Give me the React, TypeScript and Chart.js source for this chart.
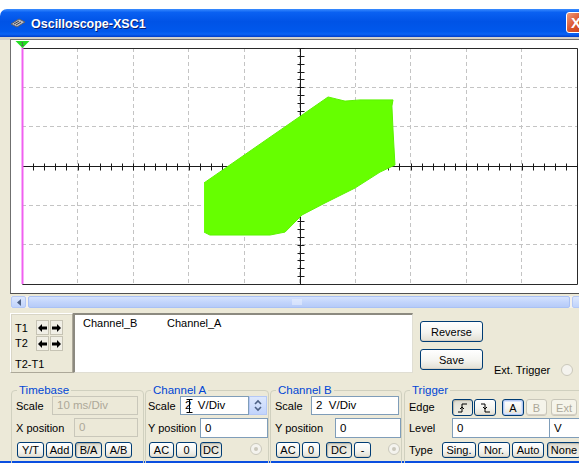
import React, { useEffect, useRef } from "react";
import { Chart, registerables } from "chart.js";

Chart.register(...registerables);

// Outline of the XY trace: Channel A drives the horizontal axis, Channel B the vertical (volts)
const chanA = [-3.44, 1.03, 1.32, 1.64, 2.18, 3.37, 3.33, 3.37, 3.44, 2.9, 2.0, 0.92, 0.09, -0.52, -1.06, -3.23, -3.44];
const chanB = [-0.86, 3.51, 3.41, 3.3, 3.36, 3.36, 3.05, 1.83, 0.05, -0.31, -1.12, -1.88, -2.49, -3.36, -3.51, -3.51, -3.36];

const voltsPerDivA = 2;
const voltsPerDivB = 2;
const divisionsX = 10;
const divisionsY = 6;
const minorPerDiv = 5;

const channelNames = ["Channel_B", "Channel_A"];

const UI_FONT = "'Liberation Sans', Arial, sans-serif";
const TRACE = "#66ff00";
const BEIGE = "#ece9d8";

const half = (v: number) => Math.round(v) + 0.5;

// Center cross-hair with minor ticks, the solid frame, and the T1 cursor
const scopePlugin = {
  id: "scopeDecor",
  beforeDatasetsDraw(chart: any) {
    const { ctx, chartArea: a, scales } = chart;
    const xs = scales.x;
    const ys = scales.y;
    const L = half(a.left);
    const R = half(a.right);
    const T = half(a.top);
    const B = half(a.bottom);
    const x0 = half(xs.getPixelForValue(0));
    const y0 = half(ys.getPixelForValue(0));
    ctx.save();
    ctx.lineWidth = 1;
    ctx.strokeStyle = "#2a2a2a";
    ctx.beginPath();
    ctx.moveTo(L, T);
    ctx.lineTo(R, T);
    ctx.lineTo(R, B);
    ctx.lineTo(L, B);
    ctx.stroke();

    ctx.strokeStyle = "#1a1a1a";
    ctx.beginPath();
    ctx.moveTo(L, y0);
    ctx.lineTo(R, y0);
    ctx.moveTo(x0, T);
    ctx.lineTo(x0, B);
    const stepX = voltsPerDivA / minorPerDiv;
    for (let v = xs.min; v <= xs.max + 1e-9; v += stepX) {
      const px = half(xs.getPixelForValue(v));
      ctx.moveTo(px, y0 - 3);
      ctx.lineTo(px, y0 + 4);
    }
    const stepY = voltsPerDivB / minorPerDiv;
    for (let v = ys.min; v <= ys.max + 1e-9; v += stepY) {
      const py = half(ys.getPixelForValue(v));
      ctx.moveTo(x0 - 3, py);
      ctx.lineTo(x0 + 4, py);
    }
    ctx.stroke();
    ctx.restore();
  },
  afterDatasetsDraw(chart: any) {
    const { ctx, chartArea: a } = chart;
    const L = half(a.left);
    ctx.save();
    ctx.strokeStyle = "#f060f0";
    ctx.lineWidth = 2;
    ctx.beginPath();
    ctx.moveTo(L, a.top - 2);
    ctx.lineTo(L, a.bottom);
    ctx.stroke();
    ctx.fillStyle = "#22dd22";
    ctx.beginPath();
    ctx.moveTo(L - 7, a.top - 7);
    ctx.lineTo(L + 7, a.top - 7);
    ctx.lineTo(L, a.top);
    ctx.closePath();
    ctx.fill();
    ctx.fillStyle = "#6b2b6b";
    ctx.font = "6px " + UI_FONT;
    ctx.textAlign = "center";
    ctx.fillText("1", L, a.top - 2);
    ctx.restore();
  },
};

function ScopeChart() {
  const ref = useRef<HTMLCanvasElement | null>(null);
  useEffect(() => {
    if (!ref.current) return;
    const points = chanA.map((a, i) => ({ x: a, y: chanB[i] }));
    const halfX = (voltsPerDivA * divisionsX) / 2;
    const halfY = (voltsPerDivB * divisionsY) / 2;
    const chart = new Chart(ref.current, {
      type: "scatter",
      data: {
        datasets: [
          {
            data: points,
            showLine: true,
            fill: "shape",
            backgroundColor: TRACE,
            borderColor: "#5cf200",
            borderWidth: 1,
            pointRadius: 0,
            tension: 0,
          } as any,
        ],
      },
      options: {
        animation: false,
        responsive: false,
        maintainAspectRatio: false,
        layout: { padding: { left: 11, top: 8, right: 2, bottom: 9 } },
        plugins: { legend: { display: false }, tooltip: { enabled: false } },
        scales: {
          x: {
            type: "linear",
            min: -halfX,
            max: halfX,
            ticks: { display: false, stepSize: voltsPerDivA },
            grid: { color: "#c4c4c4", lineWidth: 1, drawTicks: false },
            border: { display: false, dash: [4, 3] },
          },
          y: {
            type: "linear",
            min: -halfY,
            max: halfY,
            ticks: { display: false, stepSize: voltsPerDivB },
            grid: { color: "#c4c4c4", lineWidth: 1, drawTicks: false },
            border: { display: false, dash: [4, 3] },
          },
        },
      } as any,
      plugins: [scopePlugin],
    });
    return () => chart.destroy();
  }, []);
  return (
    <canvas
      ref={ref}
      width={568}
      height={253}
      style={{ position: "absolute", left: 11, top: 40, width: 568, height: 253, display: "block" }}
    />
  );
}

type P = { x: number; y: number; w: number; h: number };

function Label({ x, cy, text, color }: { x: number; cy: number; text: string; color?: string }) {
  return (
    <div
      style={{
        position: "absolute",
        left: x,
        top: cy - 8,
        height: 16,
        lineHeight: "16px",
        fontSize: 11,
        color: color || "#000",
        whiteSpace: "nowrap",
      }}
    >
      {text}
    </div>
  );
}

function Btn({ x, y, w, h, label, state, children }: P & { label?: string; state?: string; children?: any }) {
  const disabled = state === "disabled";
  const pressed = state === "pressed";
  const focus = state === "focus";
  return (
    <div
      style={{
        position: "absolute",
        left: x,
        top: y,
        width: w,
        height: h,
        boxSizing: "border-box",
        border: disabled ? "1px solid #c9c7ba" : "1px solid #003c74",
        borderRadius: 3,
        background: disabled
          ? "#f5f4ea"
          : pressed
          ? "linear-gradient(#dcdad0, #e8e6dc 40%, #efeee6)"
          : "linear-gradient(#ffffff, #f4f4f0 55%, #e2dfd3)",
        boxShadow: focus
          ? "inset 0 0 0 1px #b3c8f3, inset 0 0 0 2px #d9e4fb"
          : pressed
          ? "inset 1px 1px 1px #b8b5a8"
          : "inset 0 -1px 0 #d6d0c5",
        color: disabled ? "#aca899" : "#000",
        fontSize: 11,
        display: "flex",
        alignItems: "center",
        justifyContent: "center",
        whiteSpace: "nowrap",
      }}
    >
      {children || label}
    </div>
  );
}

function Field({ x, y, w, h, text, disabled }: P & { text: string; disabled?: boolean }) {
  return (
    <div
      style={{
        position: "absolute",
        left: x,
        top: y,
        width: w,
        height: h,
        boxSizing: "border-box",
        border: disabled ? "1px solid #c9c7ba" : "1px solid #7f9db9",
        background: disabled ? BEIGE : "#fff",
        color: disabled ? "#aca899" : "#000",
        fontSize: 11.5,
        lineHeight: h - 2 + "px",
        paddingLeft: 4,
        whiteSpace: "pre",
        overflow: "hidden",
      }}
    >
      {text}
    </div>
  );
}

function Group({ x, y, w, h, title }: P & { title: string }) {
  return (
    <div
      style={{
        position: "absolute",
        left: x,
        top: y,
        width: w,
        height: h,
        boxSizing: "border-box",
        border: "1px solid #d0d0bf",
        borderRadius: 4,
      }}
    >
      <div
        style={{
          position: "absolute",
          left: 5,
          top: -9,
          padding: "0 2px",
          background: BEIGE,
          color: "#0046d5",
          fontSize: 11.5,
          lineHeight: "16px",
          whiteSpace: "nowrap",
        }}
      >
        {title}
      </div>
    </div>
  );
}

function Radio({ x, y, dot }: { x: number; y: number; dot?: boolean }) {
  return (
    <div
      style={{
        position: "absolute",
        left: x,
        top: y,
        width: 12,
        height: 12,
        boxSizing: "border-box",
        borderRadius: "50%",
        border: "1px solid #cac8bb",
        background: "#f4f3ee",
        display: "flex",
        alignItems: "center",
        justifyContent: "center",
      }}
    >
      {dot ? <div style={{ width: 4, height: 4, borderRadius: "50%", background: "#cac8bb" }} /> : null}
    </div>
  );
}

function Arrow({ dir }: { dir: "l" | "r" }) {
  const d = dir === "l" ? "M1 5 L5 1 L5 3.5 L10 3.5 L10 6.5 L5 6.5 L5 9 Z" : "M10 5 L6 1 L6 3.5 L1 3.5 L1 6.5 L6 6.5 L6 9 Z";
  return (
    <svg width="11" height="10" viewBox="0 0 11 10">
      <path d={d} fill="#000" />
    </svg>
  );
}

function EdgeIcon({ rising }: { rising: boolean }) {
  const d = rising ? "M2 11 H6 V3 H11 M4 8 L6 6 L8 8" : "M2 3 H6 V11 H11 M4 6 L6 8 L8 6";
  return (
    <svg width="13" height="14" viewBox="0 0 13 14">
      <path d={d} stroke="#000" strokeWidth="1" fill="none" />
    </svg>
  );
}

export default function App() {
  useEffect(() => {
    document.body.style.margin = "0";
  }, []);
  return (
    <div
      style={{
        position: "absolute",
        left: 0,
        top: 0,
        width: 579,
        height: 463,
        overflow: "hidden",
        background: "#fff",
        fontFamily: UI_FONT,
      }}
    >
      {/* window body */}
      <div style={{ position: "absolute", left: 0, top: 36, width: 579, height: 427, background: BEIGE }} />
      <div style={{ position: "absolute", left: 0, top: 461, width: 579, height: 2, background: "#0a4fe0" }} />

      {/* title bar */}
      <div
        style={{
          position: "absolute",
          left: 0,
          top: 9,
          width: 579,
          height: 28,
          borderTopLeftRadius: 7,
          background:
            "linear-gradient(#3a8cff 0%, #0a61f2 12%, #0053e6 45%, #0058ec 80%, #0a63f5 90%, #003cc8 100%)",
        }}
      />
      <svg style={{ position: "absolute", left: 10, top: 17 }} width="16" height="12" viewBox="0 0 16 12">
        <path d="M1 7 L9 2 L15 5 L7 10 Z" fill="#b9bcc6" stroke="#5a5d6a" strokeWidth="1" />
        <path d="M4 7 L9 4 M6 8 L11 5" stroke="#3c3f4a" strokeWidth="1" />
      </svg>
      <div
        style={{
          position: "absolute",
          left: 31,
          top: 15,
          fontSize: 12.5,
          fontWeight: "bold",
          color: "#fff",
          lineHeight: "18px",
          textShadow: "1px 1px 0 #0a1e6e",
          whiteSpace: "nowrap",
        }}
      >
        Oscilloscope-XSC1
      </div>
      <div
        style={{
          position: "absolute",
          left: 566,
          top: 12,
          width: 22,
          height: 21,
          boxSizing: "border-box",
          border: "1px solid #fff",
          borderRadius: 3,
          background: "linear-gradient(135deg, #f09a7a, #d9522a 50%, #c4401a)",
          color: "#fff",
          fontWeight: "bold",
          fontSize: 15,
          lineHeight: "19px",
          paddingLeft: 4,
        }}
      >
        X
      </div>
      <div style={{ position: "absolute", left: 0, top: 37, width: 579, height: 3, background: "#d4d0c8" }} />

      {/* scope display */}
      <div
        style={{
          position: "absolute",
          left: 10,
          top: 39,
          width: 580,
          height: 255,
          boxSizing: "border-box",
          borderLeft: "1px solid #6f6f6f",
          borderTop: "1px solid #6f6f6f",
          borderBottom: "1px solid #505050",
          background: "#fff",
        }}
      />
      <ScopeChart />

      {/* horizontal scroll bar */}
      <div style={{ position: "absolute", left: 11, top: 296, width: 568, height: 12, background: "#f3f1ec" }} />
      <div
        style={{
          position: "absolute",
          left: 11,
          top: 296,
          width: 15,
          height: 12,
          boxSizing: "border-box",
          border: "1px solid #b4c8f6",
          borderRadius: 2,
          background: "linear-gradient(#dce7fd, #c0d3fb)",
          display: "flex",
          alignItems: "center",
          justifyContent: "center",
        }}
      >
        <svg width="6" height="7" viewBox="0 0 6 7">
          <path d="M5 0 L1 3.5 L5 7 Z" fill="#4d6185" />
        </svg>
      </div>
      <div
        style={{
          position: "absolute",
          left: 28,
          top: 296,
          width: 542,
          height: 12,
          boxSizing: "border-box",
          border: "1px solid #a9c1f5",
          borderRadius: 2,
          background: "linear-gradient(#d6e3fd, #c3d5fc 50%, #b6cbf8)",
        }}
      />
      <svg style={{ position: "absolute", left: 292, top: 299 }} width="10" height="6" viewBox="0 0 10 6">
        <path d="M1 0 V6 M3 0 V6 M5 0 V6 M7 0 V6 M9 0 V6" stroke="#eef3fe" strokeWidth="1" />
      </svg>
      <div
        style={{
          position: "absolute",
          left: 572,
          top: 296,
          width: 12,
          height: 12,
          boxSizing: "border-box",
          border: "1px solid #b4c8f6",
          borderRadius: 2,
          background: "linear-gradient(#dce7fd, #c0d3fb)",
        }}
      />

      {/* cursor controls */}
      <div
        style={{
          position: "absolute",
          left: 10,
          top: 313,
          width: 63,
          height: 60,
          boxSizing: "border-box",
          borderTop: "1px solid #fff",
          borderLeft: "1px solid #fff",
          borderRight: "1px solid #aca899",
          borderBottom: "1px solid #aca899",
          boxShadow: "inset 1px 1px 0 #d8d5c6",
        }}
      />
      <Label x={15} cy={328} text="T1" />
      <Label x={15} cy={343} text="T2" />
      <Label x={15} cy={364} text="T2-T1" />
      {[320, 336].map((top) => (
        <React.Fragment key={top}>
          <div style={{ position: "absolute", left: 36, top, width: 13, height: 15, background: "#f1efe6", border: "1px solid #c6c3b4", boxSizing: "border-box", display: "flex", alignItems: "center", justifyContent: "center" }}>
            <Arrow dir="l" />
          </div>
          <div style={{ position: "absolute", left: 50, top, width: 13, height: 15, background: "#f1efe6", border: "1px solid #c6c3b4", boxSizing: "border-box", display: "flex", alignItems: "center", justifyContent: "center" }}>
            <Arrow dir="r" />
          </div>
        </React.Fragment>
      ))}

      {/* channel readout */}
      <div
        style={{
          position: "absolute",
          left: 73,
          top: 313,
          width: 340,
          height: 60,
          boxSizing: "border-box",
          borderTop: "2px solid #8c8a80",
          borderLeft: "2px solid #8c8a80",
          borderRight: "1px solid #e0ded3",
          borderBottom: "1px solid #e0ded3",
          background: "#fff",
        }}
      />
      <Label x={83} cy={323} text={channelNames[0]} />
      <Label x={167} cy={323} text={channelNames[1]} />

      <Btn x={420} y={321} w={63} h={21} label="Reverse" />
      <Btn x={420} y={349} w={63} h={21} label="Save" />
      <Label x={494} cy={370} text="Ext. Trigger" />
      <Radio x={561} y={364} />

      {/* Timebase */}
      <Group x={11} y={390} w={133} h={80} title="Timebase" />
      <Label x={16} cy={406} text="Scale" />
      <Field x={52} y={396} w={86} h={19} text="10 ms/Div" disabled />
      <Label x={16} cy={428} text="X position" />
      <Field x={74} y={418} w={64} h={19} text="0" disabled />
      <Btn x={17} y={442} w={27} h={16} label="Y/T" />
      <Btn x={46} y={442} w={27} h={16} label="Add" />
      <Btn x={75} y={442} w={27} h={16} label="B/A" state="pressed" />
      <Btn x={105} y={442} w={27} h={16} label="A/B" />

      {/* Channel A */}
      <Group x={145} y={390} w={124} h={80} title="Channel A" />
      <Label x={148} cy={406} text="Scale" />
      <Field x={180} y={396} w={69} h={19} text={voltsPerDivA + "  V/Div"} />
      <svg style={{ position: "absolute", left: 186, top: 399 }} width="7" height="14" viewBox="0 0 7 14">
        <path d="M0.5 0.5 H6.5 M3.5 0.5 V13.5 M0.5 13.5 H6.5" stroke="#000" strokeWidth="1" fill="none" />
      </svg>
      <div
        style={{
          position: "absolute",
          left: 249,
          top: 396,
          width: 18,
          height: 19,
          boxSizing: "border-box",
          border: "1px solid #b4c8f6",
          background: "linear-gradient(#dde8fd, #c2d4fb)",
        }}
      >
        <svg width="16" height="17" viewBox="0 0 16 17" style={{ display: "block" }}>
          <path d="M5 7 L8 4 L11 7 M5 10 L8 13 L11 10" stroke="#4d6185" strokeWidth="1.6" fill="none" />
        </svg>
      </div>
      <Label x={148} cy={428} text="Y position" />
      <Field x={200} y={418} w={68} h={20} text="0" />
      <Btn x={149} y={442} w={25} h={16} label="AC" />
      <Btn x={176} y={442} w={21} h={16} label="0" />
      <Btn x={200} y={442} w={22} h={16} label="DC" state="pressed" />
      <Radio x={250} y={443} dot />

      {/* Channel B */}
      <Group x={270} y={390} w={132} h={80} title="Channel B" />
      <Label x={275} cy={406} text="Scale" />
      <Field x={311} y={396} w={88} h={19} text={voltsPerDivB + "  V/Div"} />
      <Label x={275} cy={428} text="Y position" />
      <Field x={335} y={418} w={66} h={20} text="0" />
      <Btn x={276} y={442} w={24} h={16} label="AC" />
      <Btn x={302} y={442} w={18} h={16} label="0" />
      <Btn x={326} y={442} w={26} h={16} label="DC" state="pressed" />
      <Btn x={354} y={442} w={17} h={16} label="-" />
      <Radio x={388} y={443} dot />

      {/* Trigger */}
      <Group x={404} y={390} w={190} h={80} title="Trigger" />
      <Label x={409} cy={407} text="Edge" />
      <Btn x={452} y={399} w={21} h={17} state="pressed">
        <EdgeIcon rising />
      </Btn>
      <Btn x={474} y={399} w={22} h={17}>
        <EdgeIcon rising={false} />
      </Btn>
      <Btn x={502} y={399} w={22} h={17} label="A" state="focus" />
      <Btn x={526} y={399} w={21} h={17} label="B" state="disabled" />
      <Btn x={551} y={399} w={26} h={17} label="Ext" state="disabled" />
      <Label x={409} cy={428} text="Level" />
      <Field x={452} y={418} w={98} h={20} text="0" />
      <Field x={549} y={418} w={40} h={20} text="V" />
      <Label x={409} cy={450} text="Type" />
      <Btn x={442} y={442} w={34} h={16} label="Sing." />
      <Btn x={478} y={442} w={32} h={16} label="Nor." />
      <Btn x={512} y={442} w={32} h={16} label="Auto" />
      <Btn x={547} y={442} w={34} h={16} label="None" state="pressed" />
    </div>
  );
}
